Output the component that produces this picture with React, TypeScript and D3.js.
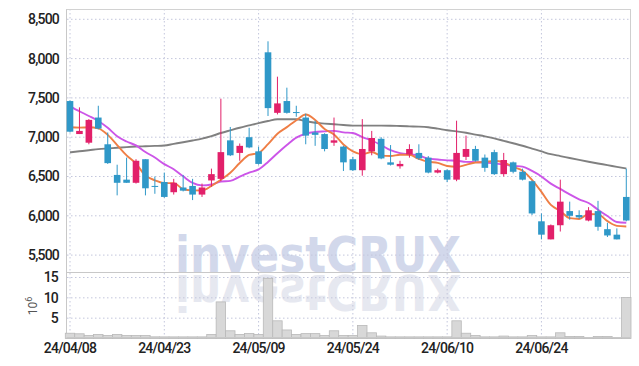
import React from "react";
import * as d3 from "d3";

const dates = [
  "24/04/08","24/04/09","24/04/11","24/04/12","24/04/15","24/04/16","24/04/17","24/04/18","24/04/19","24/04/22",
  "24/04/23","24/04/24","24/04/25","24/04/26","24/04/29","24/04/30","24/05/02","24/05/03","24/05/07","24/05/08",
  "24/05/09","24/05/10","24/05/13","24/05/14","24/05/16","24/05/17","24/05/20","24/05/21","24/05/22","24/05/23",
  "24/05/24","24/05/27","24/05/28","24/05/29","24/05/30","24/05/31","24/06/03","24/06/04","24/06/05","24/06/07",
  "24/06/10","24/06/11","24/06/12","24/06/13","24/06/14","24/06/17","24/06/18","24/06/19","24/06/20","24/06/21",
  "24/06/24","24/06/25","24/06/26","24/06/27","24/06/28","24/07/01","24/07/02","24/07/03","24/07/04","24/07/05",
];
const opens = [
  7460,7040,6930,7250,6910,6520,6460,6420,6720,6380,
  6430,6300,6360,6380,6270,6450,6470,6960,6800,7000,
  6820,8080,7310,7460,7320,7250,7060,7040,6930,6880,
  6720,6580,6820,6980,6680,6630,6780,6800,6740,6550,
  6580,6460,6750,6850,6740,6810,6530,6680,6560,6440,
  5930,5700,5880,6060,6010,5940,6060,5830,5760,6240,
];
const highs = [
  7470,7380,7230,7400,7060,6650,6740,6720,6720,6500,
  6550,6470,6520,6470,6410,6600,7490,7130,6920,7120,
  6880,8220,7770,7630,7400,7300,7210,7050,7250,6890,
  6750,7230,7080,7000,6900,6700,6910,6910,6760,6600,
  6590,7210,7020,6890,6780,6840,6800,6690,6600,6450,
  6030,5890,6460,6180,6070,6110,6190,5910,5840,6600,
];
const lows = [
  7060,7040,6910,7100,6660,6260,6420,6410,6260,6280,
  6230,6270,6310,6200,6240,6370,6440,6760,6700,6860,
  6650,7270,7290,7300,7260,6910,6890,6820,6890,6570,
  6570,6510,6770,6720,6640,6600,6740,6710,6540,6540,
  6430,6440,6710,6690,6560,6520,6500,6540,6450,6010,
  5700,5700,5800,5950,5960,5930,5810,5730,5700,5930,
];
const closes = [
  7070,7080,7220,7110,6670,6420,6420,6700,6350,6370,
  6240,6420,6320,6270,6360,6530,6810,6770,6890,6870,
  6660,7370,7430,7310,7310,7020,7030,6850,6960,6680,
  6580,6850,6990,6730,6650,6660,6850,6730,6550,6580,
  6460,6800,6850,6700,6610,6530,6710,6560,6460,6030,
  5760,5880,6180,6000,5980,6070,5860,5750,5700,5940,
];
// volume in millions of shares
const volumes = [
  1.3,1.16,0.74,0.99,0.74,0.99,0.74,0.74,0.74,0.41,
  0.4,0.4,0.4,0.4,0.4,1.0,9.0,1.9,1.0,1.23,
  1.0,14.8,4.35,2.1,1.0,1.2,1.2,0.74,1.9,0.74,
  0.74,3.2,1.4,0.6,0.4,0.4,0.4,0.4,0.4,0.4,
  0.4,4.35,1.3,0.74,0.4,0.4,0.6,0.4,0.4,0.74,
  0.4,0.4,1.4,0.5,0.5,0.2,0.5,0.5,0.2,10.1,
];
// closes of the 9 sessions before the first visible one (needed for the moving averages)
const priorCloses = [7710,7820,7750,7530,7490,7100,7200,7180,7080];
// long moving average (grey line)
const ma60Values = [
  6808,6821,6834,6848,6857,6865,6874,6881,6885,6889,
  6894,6915,6936,6958,6982,7014,7053,7087,7120,7150,
  7180,7206,7228,7228,7228,7204,7183,7173,7164,7155,
  7147,7147,7147,7147,7146,7142,7138,7135,7127,7109,
  7089,7074,7056,7033,7011,6985,6954,6923,6891,6855,
  6819,6784,6760,6735,6711,6688,6666,6645,6623,6602,
];
const priceTicks = [5500,6000,6500,7000,7500,8000,8500];
const volumeTicks = [5,10,15];
const labelDates = ["24/04/08","24/04/23","24/05/09","24/05/24","24/06/10","24/06/24"];

const W = 639, H = 366;
const X0 = 65.3, X1 = 631;
const PT = 9, PB = 272, VB = 338.5;
const UP = "#e2206a", DOWN = "#2f98c8";
const FONT = "Roboto, 'Liberation Sans', sans-serif";
const WM_FONT = "'DejaVu Sans', 'Liberation Sans', sans-serif";

function movingAvg(all: number[], n: number, offset: number) {
  return closes.map((_, i) => d3.mean(all.slice(i + offset - n + 1, i + offset + 1)) as number);
}

export default function App() {
  const all = priorCloses.concat(closes);
  const off = priorCloses.length;
  const ma5 = movingAvg(all, 5, off);
  const ma10 = movingAvg(all, 10, off);

  const x = d3.scaleBand<string>().domain(dates).range([X0, X1]).paddingInner(0.3).paddingOuter(0.15);
  const xv = d3.scaleBand<string>().domain(dates).range([X0, X1]).padding(0);
  const cx = (d: string) => (x(d) as number) + x.bandwidth() / 2;
  const y = d3.scaleLinear().domain([5285, 8631]).range([PB, PT]);
  const yv = d3.scaleLinear().domain([0, 16.35]).range([VB, PB]);

  const line = (vals: number[]) =>
    d3.line<number>().x((_, i) => cx(dates[i])).y((v) => y(v)).curve(d3.curveMonotoneX)(vals) as string;

  return (
    <svg width={W} height={H} style={{ display: "block", position: "absolute", left: 0, top: 0 }}>
      <rect x={0} y={0} width={W} height={H} fill="#fff" />
      {/* watermark */}
      <text x={175} y={PB - 0.5} fontFamily={WM_FONT} fontWeight="bold" fontSize={50}
        textLength={286} lengthAdjust="spacingAndGlyphs" fill="#d2d8eb">investCRUX</text>
      <text x={175} y={PB - 0.5} transform={`translate(0,${2 * PB + 2}) scale(1,-1)`} fontFamily={WM_FONT}
        fontWeight="bold" fontSize={50} textLength={286} lengthAdjust="spacingAndGlyphs" fill="#e6e8f0">investCRUX</text>

      {/* grid */}
      {priceTicks.map((t) => (
        <line key={"pg" + t} x1={67} x2={630} y1={y(t)} y2={y(t)} stroke="#c3c6dc" strokeDasharray="1.5,2.5" />
      ))}
      {volumeTicks.map((t) => (
        <line key={"vg" + t} x1={67} x2={630} y1={yv(t)} y2={yv(t)} stroke="#c3c6dc" strokeDasharray="1.5,2.5" />
      ))}
      {labelDates.map((d) => (
        <line key={"xg" + d} x1={cx(d)} x2={cx(d)} y1={PT} y2={VB - 1} stroke="#c3c6dc" strokeDasharray="1.5,2.5" />
      ))}

      {/* frame */}
      <line x1={66.5} x2={66.5} y1={PT} y2={VB - 1} stroke="#c8c8c8" />
      <line x1={630.5} x2={630.5} y1={PT} y2={VB - 1} stroke="#cfcfcf" />
      <line x1={66.5} x2={630.5} y1={PT + 0.5} y2={PT + 0.5} stroke="#d2d2d2" />
      <line x1={66.5} x2={630.5} y1={PB + 0.5} y2={PB + 0.5} stroke="#c8c8c8" />

      {/* volume bars */}
      {dates.map((d, i) => (
        <rect key={"v" + d} x={xv(d) as number} width={xv.bandwidth()} y={yv(volumes[i])}
          height={VB - yv(volumes[i])} fill="#d8d8d8" stroke="#b9b9b9" strokeWidth={0.8} />
      ))}
      <line x1={66.5} x2={630.5} y1={VB - 1} y2={VB - 1} stroke="#c8c8c8" />

      {/* moving averages */}
      <path d={line(ma60Values)} fill="none" stroke="#808080" strokeWidth={1.9} />
      <path d={line(ma10)} fill="none" stroke="#cc55e8" strokeWidth={1.9} />
      <path d={line(ma5)} fill="none" stroke="#ef7e45" strokeWidth={1.9} />

      {/* candles */}
      {dates.map((d, i) => {
        const o = opens[i], c = closes[i];
        const col = c > o ? UP : DOWN;
        const top = y(Math.max(o, c));
        const h = Math.max(1, y(Math.min(o, c)) - top);
        return (
          <g key={"c" + d}>
            <line x1={cx(d)} x2={cx(d)} y1={y(highs[i])} y2={y(lows[i])} stroke={col} strokeWidth={1} />
            <rect x={x(d) as number} width={x.bandwidth()} y={top} height={h} fill={col} />
          </g>
        );
      })}

      {/* axis labels */}
      {priceTicks.map((t) => (
        <text key={"pl" + t} x={59} y={y(t) + 5} textAnchor="end" fontFamily={FONT} fontWeight={500}
          fontSize={14} letterSpacing={-0.8} fill="#222">{d3.format(",")(t)}</text>
      ))}
      {volumeTicks.map((t) => (
        <text key={"vl" + t} x={58} y={yv(t) + 5} textAnchor="end" fontFamily={FONT} fontWeight={500}
          fontSize={14} letterSpacing={-0.8} fill="#222">{t}</text>
      ))}
      <text transform="translate(37,306) rotate(-90)" textAnchor="middle" fontFamily={FONT} fontSize={12} fill="#555">
        10<tspan dy={-5} fontSize={9}>6</tspan>
      </text>
      {labelDates.map((d) => (
        <text key={"xl" + d} x={cx(d)} y={353} textAnchor="middle" fontFamily={FONT} fontWeight={500}
          fontSize={14} letterSpacing={-0.8} fill="#222">{d}</text>
      ))}
    </svg>
  );
}
